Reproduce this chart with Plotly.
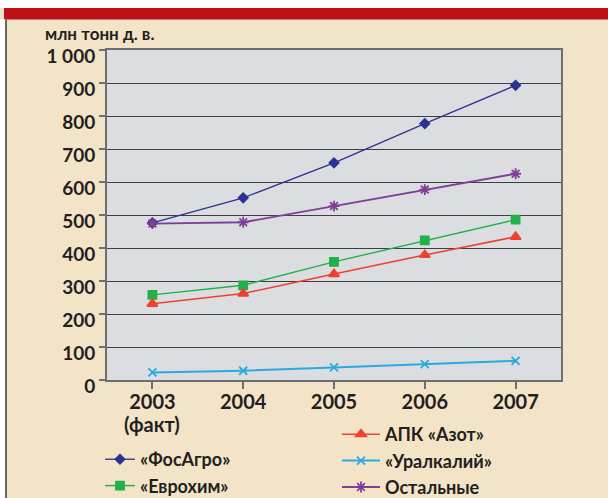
import plotly.graph_objects as go

years = ["2003", "2004", "2005", "2006", "2007"]
first_year_note = "(факт)"
fosagro = [476, 552, 658, 777, 893]
evrokhim = [258, 287, 358, 423, 486]
apk_azot = [231, 262, 321, 379, 434]
uralkaliy = [23, 28, 38, 48, 58]
ostalnye = [474, 478, 527, 577, 625]
y_ticks = [0, 100, 200, 300, 400, 500, 600, 700, 800, 900, 1000]
y_tick_text = ["0", "100", "200", "300", "400", "500", "600", "700", "800", "900", "1 000"]
unit_label = "млн тонн д. в."

W, H = 608, 498
L, R, T, B = 107, 47, 50, 118
pw, ph = W - L - R, H - T - B

def px(x):
    return (x - L) / pw

def py(y):
    return (H - B - y) / ph

def cx(x):
    return x / W

def cy(y):
    return 1 - y / H

FONT = "Lato"
TXT = "#231f20"
xs = list(range(len(years)))

fig = go.Figure()
series = [
    ("«ФосАгро»", fosagro, "#2e3192", "diamond", 7, 1.3, "legend"),
    ("«Еврохим»", evrokhim, "#22b04b", "square", 8, 1.4, "legend"),
    ("АПК «Азот»", apk_azot, "#ef4130", "triangle-up", 9, 1.6, "legend2"),
    ("«Уралкалий»", uralkaliy, "#29abe2", "x-thin-open", 8, 2.0, "legend2"),
    ("Остальные", ostalnye, "#7f3f98", "asterisk-open", 9, 1.8, "legend2"),
]
for name, vals, col, sym, size, lw, lg in series:
    fig.add_trace(go.Scatter(
        x=xs, y=vals, name=name, mode="lines+markers",
        line=dict(color=col, width=lw),
        marker=dict(symbol=sym, size=size, color=col, line=dict(color=col, width=1.8)),
        legend=lg,
    ))

legend_font = dict(size=18, family=FONT, color=TXT, weight="bold")

fig.update_layout(
    width=W, height=H,
    margin=dict(l=L, r=R, t=T, b=B, autoexpand=False),
    paper_bgcolor="#f3e4c8",
    plot_bgcolor="#dcdde0",
    font=dict(family=FONT, color=TXT, size=18, weight="bold"),
    xaxis=dict(
        range=[-0.5, 4.5], tickvals=xs, ticktext=years,
        showgrid=False, zeroline=False,
        showline=True, mirror=True, linecolor="#6d6e70", linewidth=2,
        ticks="outside", ticklen=7, tickcolor="#6d6e70", tickwidth=1.5,
        ticklabelstandoff=-4,
        tickfont=dict(size=20, family=FONT, color=TXT, weight="bold"),
    ),
    yaxis=dict(
        range=[0, 1000], tickvals=y_ticks, ticktext=y_tick_text,
        showgrid=True, gridcolor="#3e3e3e", gridwidth=1.2, zeroline=False,
        showline=True, mirror=True, linecolor="#6d6e70", linewidth=2,
        ticks="outside", ticklen=6, tickcolor="#6d6e70", tickwidth=1.5,
        ticklabelshift=6,
        tickfont=dict(size=19, family=FONT, color=TXT, weight="bold"),
    ),
    legend=dict(
        xref="container", yref="container",
        x=cx(100), y=cy(441), xanchor="left", yanchor="top",
        bgcolor="rgba(0,0,0,0)", font=legend_font,
        itemwidth=30, tracegroupgap=0,
    ),
    legend2=dict(
        xref="container", yref="container",
        x=cx(337), y=cy(416), xanchor="left", yanchor="top",
        bgcolor="rgba(0,0,0,0)", font=legend_font,
        itemwidth=38, tracegroupgap=0,
    ),
    showlegend=True,
    shapes=[
        dict(type="rect", xref="paper", yref="paper", x0=px(-5), x1=px(W + 5), y0=py(-5), y1=py(8),
             fillcolor="white", line=dict(width=0), layer="below"),
        dict(type="rect", xref="paper", yref="paper", x0=px(4), x1=px(W + 5), y0=py(8), y1=py(19.5),
             fillcolor="#bf1019", line=dict(width=0), layer="below"),
        dict(type="rect", xref="paper", yref="paper", x0=px(-5), x1=px(5.5), y0=py(19.5), y1=py(H + 5),
             fillcolor="white", line=dict(width=0), layer="below"),
        dict(type="line", xref="paper", yref="paper", x0=px(6), x1=px(6), y0=py(19.5), y1=py(H + 5),
             line=dict(color="#3a3a3a", width=1.5), layer="below"),
    ],
    annotations=[
        dict(text=unit_label, xref="paper", yref="paper", x=px(43), y=py(33),
             xanchor="left", yanchor="middle", showarrow=False,
             font=dict(size=17, family=FONT, color=TXT, weight="bold")),
        dict(text=first_year_note, xref="x", yref="paper", x=xs[0], y=py(424),
             xanchor="center", yanchor="middle", showarrow=False,
             font=dict(size=20, family=FONT, color=TXT, weight="bold")),
    ],
)

fig.write_html("out.html", config={"displayModeBar": False},
               post_script="document.body.style.margin='0';document.body.style.overflow='hidden';")
